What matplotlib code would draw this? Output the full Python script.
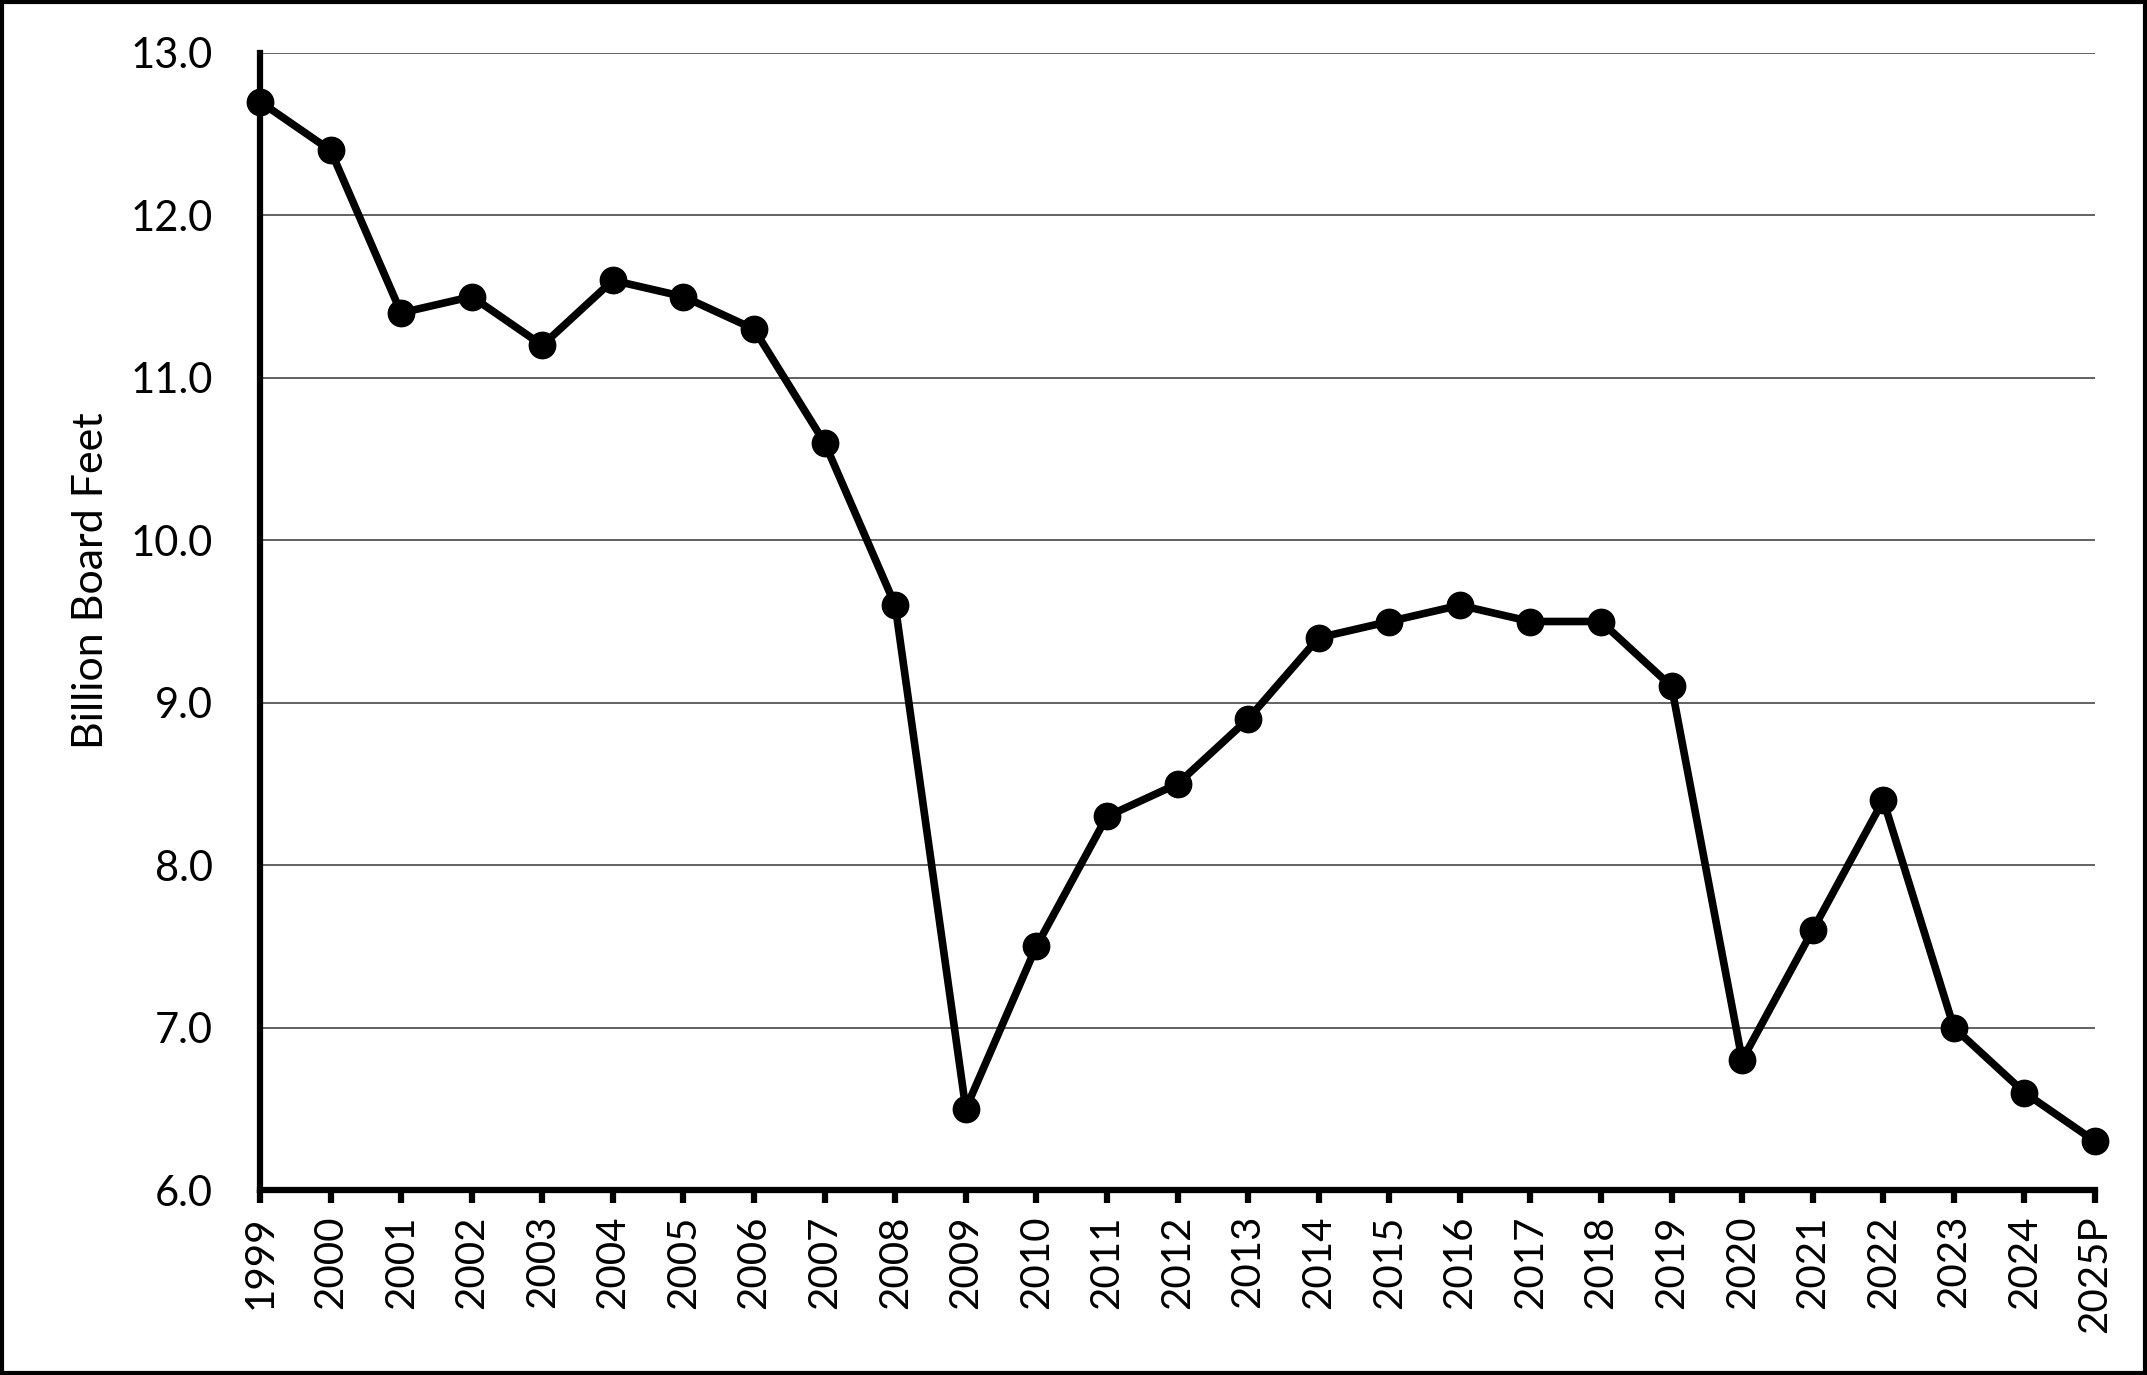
import matplotlib
matplotlib.use('Agg')
import matplotlib.pyplot as plt
from matplotlib.patches import Rectangle

years = ['1999', '2000', '2001', '2002', '2003', '2004', '2005', '2006', '2007',
         '2008', '2009', '2010', '2011', '2012', '2013', '2014', '2015', '2016',
         '2017', '2018', '2019', '2020', '2021', '2022', '2023', '2024', '2025P']
volume = [12.7, 12.4, 11.4, 11.5, 11.2, 11.6, 11.5, 11.3, 10.6,
          9.6, 6.5, 7.5, 8.3, 8.5, 8.9, 9.4, 9.5, 9.6,
          9.5, 9.5, 9.1, 6.8, 7.6, 8.4, 7.0, 6.6, 6.3]
y_ticks = [6.0, 7.0, 8.0, 9.0, 10.0, 11.0, 12.0, 13.0]

plt.rcParams['font.family'] = ['Lato', 'DejaVu Sans']

fig = plt.figure(figsize=(21.47, 13.75), dpi=100)
ax = fig.add_axes([0.1211, 0.1345, 0.8547, 0.827])

x = list(range(len(years)))
ax.plot(x, volume, color='black', linewidth=5.5, marker='o', markersize=19,
        zorder=3, clip_on=False)

ax.set_xlim(0, len(years) - 1)
ax.set_ylim(6.0, 13.0)
ax.set_yticks(y_ticks)
ax.set_yticklabels([f'{v:.1f}' for v in y_ticks], fontsize=30)
ax.set_xticks(x)
ax.set_xticklabels(years, rotation=90, fontsize=29)

# gridlines and spines
ax.grid(axis='y', color='#555555', linewidth=1.3)
ax.set_axisbelow(True)
for side in ['top', 'right']:
    ax.spines[side].set_visible(False)
for side in ['left', 'bottom']:
    ax.spines[side].set_linewidth(4.5)
    ax.spines[side].set_color('black')

ax.tick_params(axis='y', length=0, pad=34)
ax.tick_params(axis='x', direction='out', length=9, width=4.5, pad=9)

ax.set_ylabel('Billion Board Feet', fontsize=31)
ax.yaxis.set_label_coords(-0.082, 0.536)

# outer frame round the whole chart
fig.patches.append(Rectangle((0.0008, 0.0012), 0.9984, 0.9976, transform=fig.transFigure,
                             fill=False, edgecolor='black', linewidth=3))

fig.savefig('out.png', dpi=100, facecolor='white')
plt.close()
